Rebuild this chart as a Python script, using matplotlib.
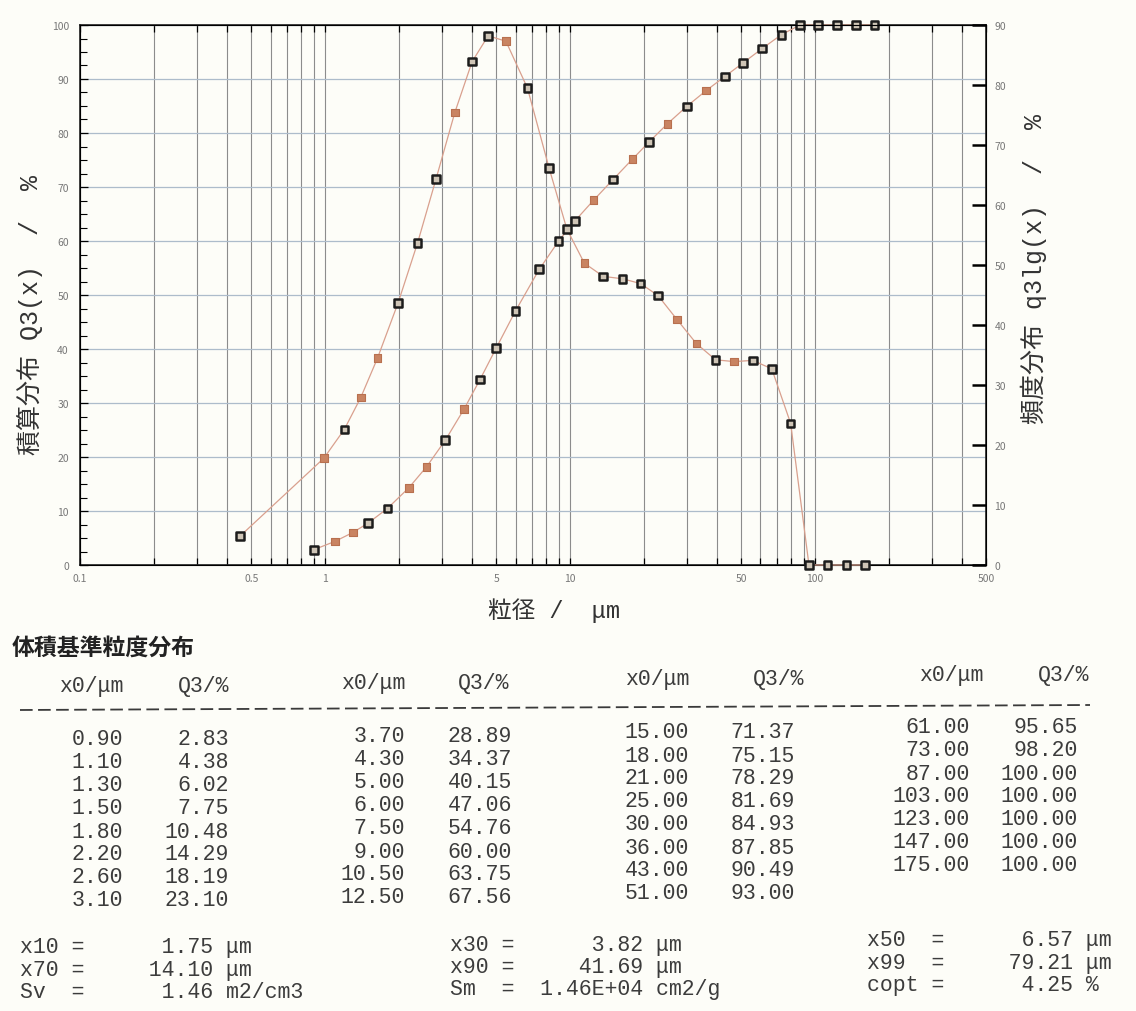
import matplotlib
matplotlib.use("Agg")
import matplotlib.pyplot as plt
from matplotlib.ticker import FixedLocator, FixedFormatter, LogLocator, NullFormatter, MultipleLocator
from matplotlib.lines import Line2D

plt.rcParams['font.family'] = ['Noto Sans CJK JP', 'DejaVu Sans']

# ---------------- data ----------------
# cumulative distribution Q3 (table values)
x0 = [0.90, 1.10, 1.30, 1.50, 1.80, 2.20, 2.60, 3.10,
      3.70, 4.30, 5.00, 6.00, 7.50, 9.00, 10.50, 12.50,
      15.00, 18.00, 21.00, 25.00, 30.00, 36.00, 43.00, 51.00,
      61.00, 73.00, 87.00, 103.00, 123.00, 147.00, 175.00]
q3 = [2.83, 4.38, 6.02, 7.75, 10.48, 14.29, 18.19, 23.10,
      28.89, 34.37, 40.15, 47.06, 54.76, 60.00, 63.75, 67.56,
      71.37, 75.15, 78.29, 81.69, 84.93, 87.85, 90.49, 93.00,
      95.65, 98.20, 100.00, 100.00, 100.00, 100.00, 100.00]

# frequency distribution q3lg (right axis)
xf = [0.45, 0.99, 1.20, 1.40, 1.64, 1.99, 2.39, 2.84, 3.39, 3.99,
      4.64, 5.48, 6.71, 8.22, 9.72, 11.46, 13.69, 16.43, 19.44, 22.91,
      27.39, 32.86, 39.34, 46.83, 55.78, 66.73, 79.69, 94.66, 112.6,
      134.5, 160.4]
q3lg = [4.8, 17.8, 22.6, 27.9, 34.5, 43.7, 53.7, 64.3, 75.4, 83.9,
        88.2, 87.3, 79.5, 66.2, 56.0, 50.3, 48.1, 47.7, 46.9, 44.9,
        40.9, 36.9, 34.2, 33.9, 34.1, 32.7, 23.6, 0.0, 0.0, 0.0, 0.0]

# marker appearance in the print (k = dark, o = orange)
q3_kind = "kookkookokkkkkkokokokokkkkkkkkk"
q3lg_kind = "kokookkkokkokkkokkkkookokkkkkkk"

x_ticks = [0.1, 0.5, 1, 5, 10, 50, 100, 500]
x_tick_labels = ["0.1", "0.5", "1", "5", "10", "50", "100", "500"]
left_ticks = list(range(0, 101, 10))
right_ticks = list(range(0, 91, 10))

title = "体積基準粒度分布"
stats_left = ["x10 =      1.75 μm", "x70 =     14.10 μm", "Sv  =      1.46 m2/cm3"]
stats_mid = ["x30 =      3.82 μm", "x90 =     41.69 μm", "Sm  =  1.46E+04 cm2/g"]
stats_right = ["x50  =      6.57 μm", "x99  =     79.21 μm", "copt =      4.25 %"]

# ---------------- figure ----------------
W, H = 1136, 1012
BG = "#fdfdf8"
fig = plt.figure(figsize=(W / 100, H / 100), dpi=100, facecolor=BG)


def P(x, y):
    return x / W, 1 - y / H


MONO = ["Liberation Mono", "DejaVu Sans Mono"]
LABEL_FONT = ["Liberation Mono", "Noto Sans CJK JP"]

ax = fig.add_axes([80 / W, 1 - 566 / H, 906 / W, 540 / H])
ax.set_facecolor(BG)
ax.set_xscale("log")
ax.set_xlim(0.1, 500)
ax.set_ylim(0, 100)

ax.xaxis.set_major_locator(FixedLocator(x_ticks))
ax.xaxis.set_major_formatter(FixedFormatter(x_tick_labels))
ax.xaxis.set_minor_locator(LogLocator(base=10, subs=[2, 3, 4, 5, 6, 7, 8, 9], numticks=20))
ax.xaxis.set_minor_formatter(NullFormatter())
ax.yaxis.set_major_locator(FixedLocator(left_ticks))
ax.yaxis.set_minor_locator(MultipleLocator(2.5))

ax.grid(True, which="both", axis="x", color="#8c8c8c", lw=0.8)
ax.grid(True, which="major", axis="y", color="#adbccb", lw=0.9)
ax.set_axisbelow(True)

ax.tick_params(axis="x", which="both", direction="in", top=True, length=5, width=0.9,
               labelsize=7.5, labelcolor="#777777", pad=6)
ax.tick_params(axis="y", which="major", direction="in", length=6, width=0.9,
               labelsize=7.5, labelcolor="#777777", pad=8)
ax.tick_params(axis="y", which="minor", direction="in", length=5, width=0.8)
for s in ax.spines.values():
    s.set_color("#222222")
    s.set_linewidth(1.2)

ax2 = ax.twinx()
ax2.set_ylim(0, 90)
ax2.yaxis.set_major_locator(FixedLocator(right_ticks))
ax2.tick_params(axis="y", direction="in", length=10, width=1.8, labelsize=7.5,
                labelcolor="#777777", pad=6)

LINE = "#d9a08e"
DARK_FACE, DARK_EDGE = "#cfc5b6", "#1c1c1c"
OR_FACE, OR_EDGE = "#c98462", "#b8704f"


def styles(kinds):
    fc = [DARK_FACE if k == "k" else OR_FACE for k in kinds]
    ec = [DARK_EDGE if k == "k" else OR_EDGE for k in kinds]
    lw = [1.8 if k == "k" else 0.8 for k in kinds]
    return fc, ec, lw


ax.plot(x0, q3, color=LINE, lw=0.9, zorder=3, clip_on=False)
fc, ec, lw = styles(q3_kind)
ax.scatter(x0, q3, marker="s", s=30, c=fc, edgecolors=ec, linewidths=lw, zorder=4, clip_on=False)

ax2.plot(xf, q3lg, color=LINE, lw=0.9, zorder=3, clip_on=False)
fc, ec, lw = styles(q3lg_kind)
ax2.scatter(xf, q3lg, marker="s", s=30, c=fc, edgecolors=ec, linewidths=lw, zorder=4, clip_on=False)

ax.set_ylabel("積算分布 Q3(x)  /  %", family=LABEL_FONT, fontsize=18, color="#333333")
ax.yaxis.set_label_coords(-0.041, 0.465)
ax2.set_ylabel("頻度分布 q3lg(x)  /  %", family=LABEL_FONT, fontsize=18, color="#333333")
ax2.yaxis.set_label_coords(1.038, 0.55)
ax.set_xlabel("粒径 /  μm", family=LABEL_FONT, fontsize=17, color="#333333")
ax.xaxis.set_label_coords(0.523, -0.06)

# ---------------- table ----------------
fig.text(*P(12, 648), title, fontsize=16.5, fontweight="bold", color="#222222",
         ha="left", va="center")

TC = "#3c3c3c"
FS = 15.5

col_shift = [0, -3, -7, -12]
hdr_x_right = [123, 405, 689, 983]
hdr_q_right = [229, 509, 804, 1089]
for c in range(4):
    fig.text(*P(hdr_x_right[c], 687 + col_shift[c]), "x0/μm", family=MONO, fontsize=FS,
             color=TC, ha="right", va="center")
    fig.text(*P(hdr_q_right[c], 687 + col_shift[c]), "Q3/%", family=MONO, fontsize=FS,
             color=TC, ha="right", va="center")

fig.add_artist(Line2D([20 / W, 1090 / W], [1 - 711 / H, 1 - 706 / H], color="#3a3a3a",
                      lw=1.3, linestyle=(0, (7, 3))))

dat_x_right = [123, 405, 689, 970]
dat_q_right = [229, 512, 795, 1078]
for i in range(len(x0)):
    c, r = divmod(i, 8)
    y = 740 + 23 * r + col_shift[c]
    fig.text(*P(dat_x_right[c], y), f"{x0[i]:.2f}", family=MONO, fontsize=FS, color=TC,
             ha="right", va="center")
    fig.text(*P(dat_q_right[c], y), f"{q3[i]:.2f}", family=MONO, fontsize=FS, color=TC,
             ha="right", va="center")

for block, bx, by in ((stats_left, 20, 948), (stats_mid, 450, 945), (stats_right, 867, 941)):
    for r, line in enumerate(block):
        fig.text(*P(bx, by + 22.5 * r), line, family=MONO, fontsize=FS, color=TC,
                 ha="left", va="center")

fig.savefig("out.png", dpi=100, facecolor=BG)
